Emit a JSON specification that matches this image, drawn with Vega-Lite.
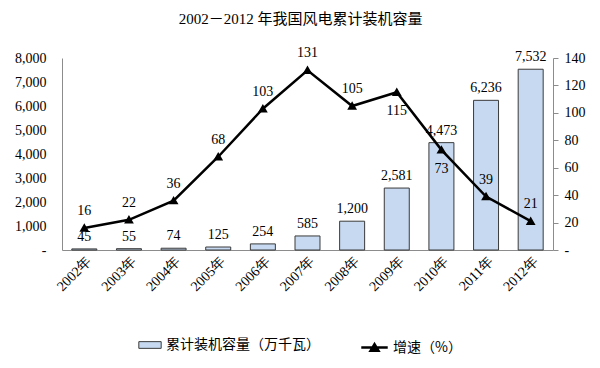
{
  "$schema": "https://vega.github.io/schema/vega-lite/v6.json",
  "width": 491,
  "height": 192,
  "autosize": {"type": "none"},
  "padding": {"left": 62, "top": 58, "right": 47, "bottom": 118},
  "background": "white",
  "title": {
    "text": "2002－2012 年我国风电累计装机容量",
    "font": "Liberation Serif, Noto Sans CJK SC",
    "fontSize": 15,
    "fontWeight": "normal",
    "color": "#000000",
    "anchor": "middle",
    "dx": -7,
    "offset": 19
  },
  "config": {
    "view": {"stroke": null},
    "axis": {"labelFont": "Liberation Serif", "labelFontSize": 14, "labelColor": "#000000", "grid": false, "title": null, "domainColor": "#8c8c8c"},
    "legend": {"labelFont": "Noto Sans CJK SC", "labelFontSize": 14, "labelColor": "#000000", "title": null}
  },
  "data": {
    "values": [
      {"year": "2002年", "cap": 45, "growth": 16, "cl": "45", "pos": "up"},
      {"year": "2003年", "cap": 55, "growth": 22, "cl": "55", "pos": "up"},
      {"year": "2004年", "cap": 74, "growth": 36, "cl": "74", "pos": "up"},
      {"year": "2005年", "cap": 125, "growth": 68, "cl": "125", "pos": "up"},
      {"year": "2006年", "cap": 254, "growth": 103, "cl": "254", "pos": "up"},
      {"year": "2007年", "cap": 585, "growth": 131, "cl": "585", "pos": "up"},
      {"year": "2008年", "cap": 1200, "growth": 105, "cl": "1,200", "pos": "up"},
      {"year": "2009年", "cap": 2581, "growth": 115, "cl": "2,581", "pos": "down"},
      {"year": "2010年", "cap": 4473, "growth": 73, "cl": "4,473", "pos": "down"},
      {"year": "2011年", "cap": 6236, "growth": 39, "cl": "6,236", "pos": "up"},
      {"year": "2012年", "cap": 7532, "growth": 21, "cl": "7,532", "pos": "up"}
    ]
  },
  "encoding": {
    "x": {
      "field": "year", "type": "nominal", "sort": null,
      "scale": {"paddingInner": 0.44, "paddingOuter": 0.22},
      "axis": {"labelAngle": -45, "labelAlign": "right", "labelBaseline": "top", "ticks": false, "labelPadding": 4, "domainColor": "#8c8c8c"}
    }
  },
  "layer": [
    {
      "encoding": {
        "y": {
          "field": "cap", "type": "quantitative",
          "scale": {"domain": [0, 8000], "nice": false},
          "axis": {"orient": "left", "values": [0, 1000, 2000, 3000, 4000, 5000, 6000, 7000, 8000], "labelExpr": "datum.value == 0 ? '-' : format(datum.value, ',')", "ticks": false, "labelPadding": 16}
        }
      },
      "layer": [
        {
          "mark": {"type": "bar", "stroke": "#3a3a3a", "strokeWidth": 1},
          "encoding": {
            "fill": {"datum": "累计装机容量（万千瓦）", "type": "nominal", "scale": {"range": ["#c6d9f1"]},
              "legend": {"orient": "none", "legendX": 76, "legendY": 275, "symbolType": "M-1,-0.3H1V0.3H-1Z", "symbolSize": 500, "symbolStrokeColor": "#3a3a3a", "symbolStrokeWidth": 1}}
          }
        },
        {
          "mark": {"type": "text", "font": "Liberation Serif", "fontSize": 14, "baseline": "bottom", "dy": -5, "color": "#000000"},
          "encoding": {"text": {"field": "cl"}}
        }
      ]
    },
    {
      "encoding": {
        "y": {
          "field": "growth", "type": "quantitative",
          "scale": {"domain": [0, 140], "nice": false},
          "axis": {"orient": "right", "values": [0, 20, 40, 60, 80, 100, 120, 140], "labelExpr": "datum.value == 0 ? '-' : datum.value", "ticks": true, "tickSize": 5, "tickColor": "#8c8c8c", "labelPadding": 6}
        }
      },
      "layer": [
        {
          "mark": {"type": "line", "color": "#000000", "strokeWidth": 2.5, "point": {"shape": "triangle-up", "filled": true, "size": 40, "color": "#000000"}},
          "encoding": {
            "stroke": {"datum": "增速（%）", "type": "nominal", "scale": {"range": ["#000000"]},
              "legend": {"orient": "none", "legendX": 298, "legendY": 275, "symbolType": "M-1,0H1M-0.3,0.25L0,-0.25L0.3,0.25Z", "symbolSize": 700, "symbolStrokeWidth": 2.5, "symbolFillColor": "#000000"}}
          }
        },
        {
          "transform": [{"filter": "datum.pos == 'up'"}],
          "mark": {"type": "text", "font": "Liberation Serif", "fontSize": 14, "baseline": "bottom", "dy": -10, "color": "#000000"},
          "encoding": {"text": {"field": "growth"}}
        },
        {
          "transform": [{"filter": "datum.pos == 'down'"}],
          "mark": {"type": "text", "font": "Liberation Serif", "fontSize": 14, "baseline": "top", "dy": 12, "color": "#000000"},
          "encoding": {"text": {"field": "growth"}}
        }
      ]
    }
  ],
  "resolve": {"scale": {"y": "independent"}}
}
